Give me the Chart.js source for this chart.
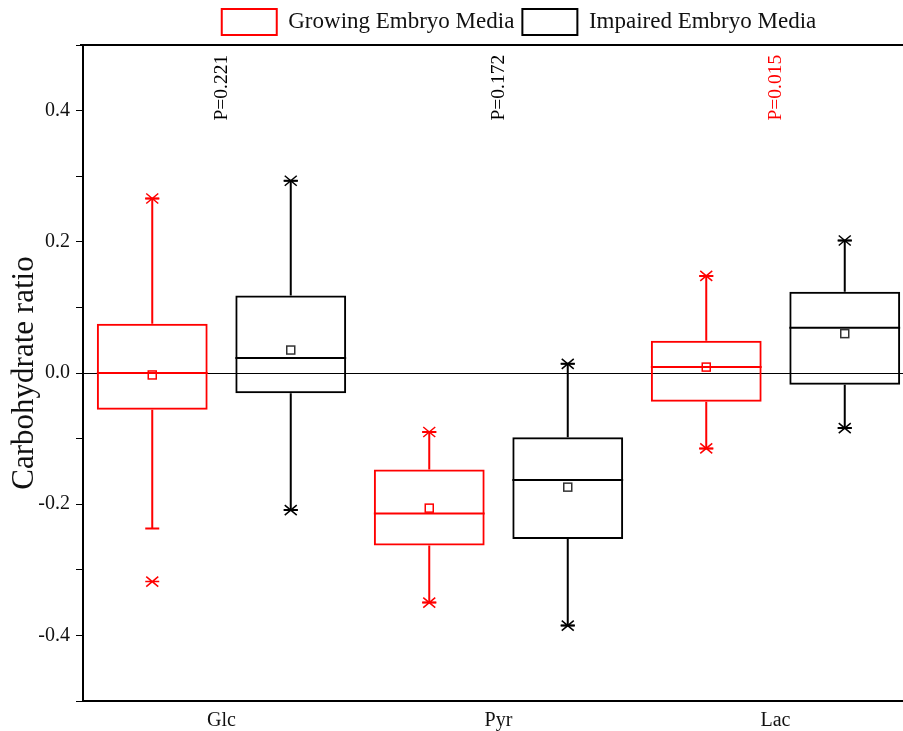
<!DOCTYPE html>
<html>
<head>
<meta charset="utf-8">
<script src="https://cdn.jsdelivr.net/npm/chart.js@4.4.0/dist/chart.umd.min.js"></script>
<style>
  html, body { margin: 0; padding: 0; background: #fff; overflow: hidden; }
  #wrap { width: 1030px; height: 731px; }
</style>
</head>
<body>
<div id="wrap"><canvas id="boxChart" width="1030" height="731"></canvas></div>
<script>
// categorias y estadisticos
const categories = ['Glc', 'Pyr', 'Lac'];
const seriesNames = ['Growing Embryo Media', 'Impaired Embryo Media'];

const growQ1 = [-0.056, -0.263, -0.044];
const growQ3 = [0.075, -0.147, 0.049];
const growMedian = [0.0, -0.214, 0.009];
const growMean = [-0.003, -0.206, 0.009];
const growLow = [-0.237, -0.350, -0.115];
const growHigh = [0.266, -0.090, 0.148];
const growMarks = [[0.266, -0.318], [-0.090, -0.350], [0.148, -0.115]];

const impQ1 = [-0.031, -0.253, -0.018];
const impQ3 = [0.118, -0.098, 0.124];
const impMedian = [0.023, -0.163, 0.069];
const impMean = [0.035, -0.174, 0.060];
const impLow = [-0.209, -0.385, -0.084];
const impHigh = [0.293, 0.014, 0.202];
const impMarks = [[0.293, -0.209], [0.014, -0.385], [0.202, -0.084]];

const pLabels = ['P=0.221', 'P=0.172', 'P=0.015'];
const pColors = ['#000000', '#000000', '#ff0000'];
const pLevel = 0.435;

const RED = '#ff0000';
const BLACK = '#000000';
const SERIF = "'Liberation Serif', 'DejaVu Serif', serif";

const groups = [
    { low: growLow, high: growHigh, median: growMedian, mean: growMean, marks: growMarks },
    { low: impLow, high: impHigh, median: impMedian, mean: impMean, marks: impMarks }
];

// bigotes, mediana, media y estrellas
const boxPlugin = {
    id: 'boxWhiskers',
    afterLayout(chart) {
        // leyenda desplazada como en la figura original
        const lg = chart.legend;
        if (lg) { lg.left += 62; lg.right += 62; }
    },
    afterDatasetsDraw(chart) {
        const ctx = chart.ctx;
        const y = chart.scales.y;
        chart.data.datasets.forEach((ds, i) => {
            const g = groups[i];
            const meta = chart.getDatasetMeta(i);
            meta.data.forEach((bar, j) => {
                const x = bar.x;
                const half = bar.width / 2;
                const top = Math.min(bar.y, bar.base);
                const bottom = Math.max(bar.y, bar.base);
                const yHi = y.getPixelForValue(g.high[j]);
                const yLo = y.getPixelForValue(g.low[j]);
                ctx.save();
                ctx.strokeStyle = ds.borderColor;
                ctx.lineWidth = 2;
                ctx.beginPath();
                ctx.moveTo(x, top); ctx.lineTo(x, yHi);
                ctx.moveTo(x, bottom); ctx.lineTo(x, yLo);
                ctx.moveTo(x - 7, yHi); ctx.lineTo(x + 7, yHi);
                ctx.moveTo(x - 7, yLo); ctx.lineTo(x + 7, yLo);
                const yMed = y.getPixelForValue(g.median[j]);
                ctx.moveTo(x - half, yMed); ctx.lineTo(x + half, yMed);
                ctx.stroke();

                // media
                const yMean = y.getPixelForValue(g.mean[j]);
                ctx.lineWidth = 1.5;
                ctx.strokeStyle = i === 0 ? RED : '#333333';
                ctx.strokeRect(x - 4, yMean - 4, 8, 8);

                // estrellas (max/min/atipicos)
                ctx.strokeStyle = ds.borderColor;
                ctx.lineWidth = 1.5;
                g.marks[j].forEach(v => {
                    const yp = y.getPixelForValue(v);
                    ctx.beginPath();
                    ctx.moveTo(x - 6, yp - 5); ctx.lineTo(x + 6, yp + 5);
                    ctx.moveTo(x - 6, yp + 5); ctx.lineTo(x + 6, yp - 5);
                    ctx.moveTo(x - 7, yp); ctx.lineTo(x + 7, yp);
                    ctx.stroke();
                });
                ctx.restore();
            });
        });
    },
    afterDraw(chart) {
        const ctx = chart.ctx;
        const area = chart.chartArea;
        const x = chart.scales.x;
        const y = chart.scales.y;
        // marco superior
        ctx.save();
        ctx.strokeStyle = BLACK;
        ctx.lineWidth = 2;
        ctx.beginPath();
        ctx.moveTo(area.left - 3, area.top);
        ctx.lineTo(area.right, area.top);
        ctx.stroke();

        // valores P verticales
        ctx.font = '19.5px ' + SERIF;
        ctx.textAlign = 'center';
        ctx.textBaseline = 'middle';
        pLabels.forEach((txt, j) => {
            ctx.save();
            ctx.translate(x.getPixelForValue(j), y.getPixelForValue(pLevel));
            ctx.rotate(-Math.PI / 2);
            ctx.fillStyle = pColors[j];
            ctx.fillText(txt, 0, 0);
            ctx.restore();
        });
        ctx.restore();
    }
};

const boxCanvas = document.getElementById('boxChart');
new Chart(boxCanvas, {
    type: 'bar',
    data: {
        labels: categories,
        datasets: [
            {
                label: seriesNames[0],
                data: growQ1.map((q, j) => [q, growQ3[j]]),
                backgroundColor: 'rgba(255,255,255,0)',
                borderColor: RED,
                borderWidth: 2,
                borderSkipped: false
            },
            {
                label: seriesNames[1],
                data: impQ1.map((q, j) => [q, impQ3[j]]),
                backgroundColor: 'rgba(255,255,255,0)',
                borderColor: BLACK,
                borderWidth: 2,
                borderSkipped: false
            }
        ]
    },
    options: {
        responsive: false,
        animation: false,
        devicePixelRatio: 1,
        barPercentage: 0.8,
        categoryPercentage: 1.0,
        layout: { padding: { top: 1, right: 116, bottom: 0, left: 0 } },
        plugins: {
            tooltip: { enabled: false },
            legend: {
                position: 'top',
                align: 'center',
                labels: {
                    boxWidth: 55,
                    boxHeight: 26,
                    padding: 8,
                    color: '#111',
                    font: { family: SERIF, size: 23 }
                }
            }
        },
        scales: {
            x: {
                type: 'category',
                afterFit: s => { s.height = 30; },
                grid: { display: false },
                border: { display: true, color: BLACK, width: 2 },
                ticks: { color: '#111', padding: 0, font: { family: SERIF, size: 20 } }
            },
            y: {
                min: -0.5,
                max: 0.5,
                afterFit: s => { s.width = 83; },
                border: { display: true, color: BLACK, width: 2 },
                grid: {
                    color: c => (c.tick && Math.abs(c.tick.value) < 1e-9 ? BLACK : 'rgba(0,0,0,0)'),
                    tickColor: BLACK,
                    tickLength: 7,
                    lineWidth: 1
                },
                ticks: {
                    stepSize: 0.1,
                    autoSkip: false,
                    color: '#111',
                    padding: 6,
                    font: { family: SERIF, size: 20 },
                    callback: v => {
                        const k = Math.round(v * 10);
                        return (k % 2 === 0 && Math.abs(k) < 5) ? (k / 10).toFixed(1) : '';
                    }
                },
                title: {
                    display: true,
                    text: 'Carbohydrate ratio',
                    color: '#111',
                    padding: { top: 6, bottom: 0 },
                    font: { family: SERIF, size: 31 }
                }
            }
        }
    },
    plugins: [boxPlugin]
});
</script>
</body>
</html>
